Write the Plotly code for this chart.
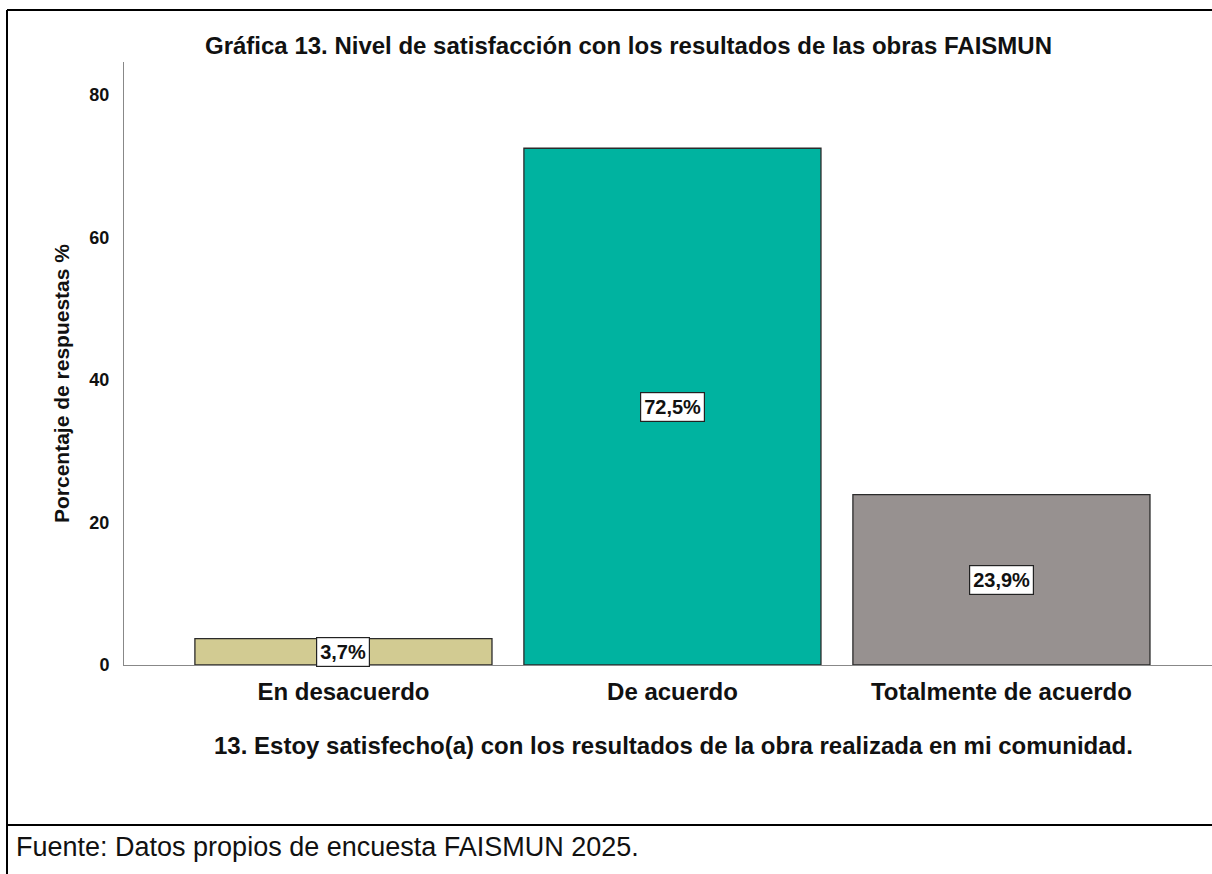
import plotly.graph_objects as go

# datos
categorias = ["En desacuerdo", "De acuerdo", "Totalmente de acuerdo"]
porcentajes = [3.7, 72.5, 23.9]
etiquetas = ["3,7%", "72,5%", "23,9%"]
colores = ["#D2CB92", "#00B3A0", "#979190"]
ticks_y = [0, 20, 40, 60, 80]

W, H = 1212, 874
L, R, T, B = 124, 0, 62, 209
pw, ph = W - L - R, H - T - B


def px(x):
    return (x - L) / pw


def py(y):
    return (H - B - y) / ph


FONT = "Liberation Sans, Arial, sans-serif"
NARROW = "Liberation Sans Narrow, Arial Narrow, " + FONT

fig = go.Figure()
fig.add_trace(go.Bar(
    x=list(range(len(categorias))), y=porcentajes,
    marker=dict(color=colores, line=dict(color="#2b2b2b", width=1.3)),
    width=0.903, hoverinfo="skip",
))

# etiquetas de valor en caja, a media altura de cada barra
for i, (v, t) in enumerate(zip(porcentajes, etiquetas)):
    fig.add_annotation(x=i, y=v / 2, text=f"<b>{t}</b>", showarrow=False,
                       font=dict(family=NARROW, size=20, color="#111"),
                       bgcolor="white", bordercolor="#222", borderwidth=1.2, borderpad=3)


def texto(x, y, t, size, **kw):
    fig.add_annotation(xref="paper", yref="paper", x=px(x), y=py(y), text=t, showarrow=False,
                       yanchor="middle", font=dict(family=FONT, size=size, color="#111"), **kw)


texto(628, 45, "<b>Gráfica 13. Nivel de satisfacción con los resultados de las obras FAISMUN</b>", 24, xanchor="center")
texto(61, 384, "<b>Porcentaje de respuestas %</b>", 21, xanchor="center", textangle=-90)
texto(673, 745, "<b>13. Estoy satisfecho(a) con los resultados de la obra realizada en mi comunidad.</b>", 24,
      xanchor="center")
texto(14, 847, "Fuente: Datos propios de encuesta FAISMUN 2025.", 27, xanchor="left")

# marco tipo tabla
linea = dict(color="black", width=2)
fig.add_shape(type="line", xref="paper", yref="paper", x0=px(7), x1=px(W), y0=py(10), y1=py(10), line=linea)
fig.add_shape(type="line", xref="paper", yref="paper", x0=px(7), x1=px(7), y0=py(10), y1=py(H), line=linea)
fig.add_shape(type="line", xref="paper", yref="paper", x0=px(7), x1=px(W), y0=py(825), y1=py(825), line=linea)

fig.update_layout(
    width=W, height=H, margin=dict(l=L, r=R, t=T, b=B),
    paper_bgcolor="white", plot_bgcolor="white", showlegend=False,
    font=dict(family=FONT, color="#111"),
    xaxis=dict(range=[-0.667, 2.64], tickvals=list(range(len(categorias))),
               ticktext=[f"<b>{c}</b>" for c in categorias],
               showgrid=False, zeroline=False, showline=True, linecolor="#888", linewidth=1,
               ticks="", ticklabelstandoff=5, tickfont=dict(size=24, family=FONT, color="#111"), fixedrange=True),
    yaxis=dict(range=[0, 84.6], tickvals=ticks_y, ticktext=[f"<b>{v}</b>" for v in ticks_y],
               showgrid=False, zeroline=False, showline=True, linecolor="#888", linewidth=1,
               ticks="", ticklabelstandoff=10, tickfont=dict(size=18, family=FONT, color="#111"), fixedrange=True),
)

fig.write_html("out.html", config={"displayModeBar": False},
               post_script="document.documentElement.style.overflow='hidden';"
                           "document.body.style.margin='0';document.body.style.overflow='hidden';")
